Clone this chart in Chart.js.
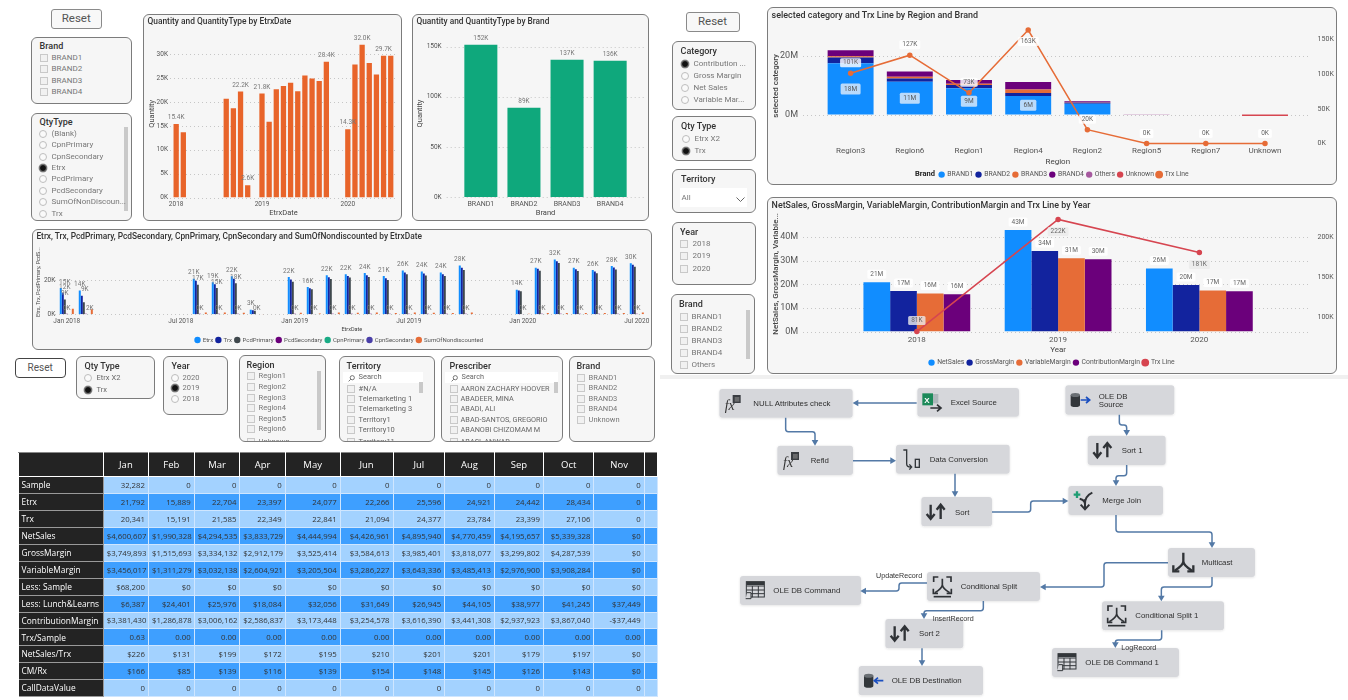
<!DOCTYPE html>
<html><head><meta charset="utf-8">
<script src="https://cdn.jsdelivr.net/npm/chart.js@4"></script>
<style>
html,body{margin:0;padding:0;background:#fff;width:1348px;height:700px;overflow:hidden;font-family:Roboto,sans-serif}
#root{position:absolute;left:0;top:0;width:1348px;height:700px;overflow:hidden;filter:blur(.3px)}
.card{position:absolute;box-sizing:border-box;background:#f6f6f6;border:1.4px solid #7c7c7c;border-radius:6px;overflow:hidden}
.t{position:absolute;white-space:nowrap;line-height:12px}
.btn{position:absolute;box-sizing:border-box;background:#f8f8f8;border:1.2px solid #8a8a8a;border-radius:3px;text-align:center;color:#555}
.chk{position:absolute;box-sizing:border-box;width:8px;height:8px;border:1px solid #c9c9c9;background:#f1f1f1}
.rad{position:absolute;box-sizing:border-box;width:8px;height:8px;border:1px solid #bdbdbd;border-radius:50%;background:#fafafa}
.rad.on{background:#111;border:1px solid #777;box-shadow:0 0 0 .5px #999}
.bar{position:absolute;background:#c9c9c9}
.white{position:absolute;background:#fff}
canvas{position:absolute}
table{position:absolute;border-collapse:collapse;table-layout:fixed;font-family:"Open Sans",sans-serif}
td,th{padding:0 3px;overflow:hidden;white-space:nowrap;box-sizing:border-box;font-weight:400}
th{background:#232323;color:#fff;font-size:9.5px;text-align:center;border:1px solid #fff;border-top:1px solid #888}
td.v{font-size:7.8px;text-align:right;color:#333;border:1px solid #cfe6ff}
td.h{background:#232323;color:#fff;font-size:8.4px;text-align:left;border-top:1px solid #999;border-bottom:1px solid #999;border-left:0;border-right:1px solid #999}
td.rl{background:#a3d2ff}td.rd{background:#3e9fff}
</style></head><body><div id="root"></div>
<script>
/* ---------- chart data ---------- */
const monthLabels=['Jan 2018','Feb 2018','Mar 2018','Apr 2018','May 2018','Jun 2018','Jul 2018','Aug 2018','Sep 2018','Oct 2018','Nov 2018','Dec 2018','Jan 2019','Feb 2019','Mar 2019','Apr 2019','May 2019','Jun 2019','Jul 2019','Aug 2019','Sep 2019','Oct 2019','Nov 2019','Dec 2019','Jan 2020','Feb 2020','Mar 2020','Apr 2020','May 2020','Jun 2020','Jul 2020'];
const quantityByMonth=[15400,13700,null,null,null,null,null,20700,18700,22200,2600,null,21792,15889,22704,23397,24077,22266,25596,24921,24442,28434,null,null,14300,27900,32000,28200,25800,29700,29700];
const quantityLabels=['15.4K',null,null,null,null,null,null,null,null,'22.2K','2.6K',null,'21.8K',null,null,null,null,null,null,null,null,'28.4K',null,null,'14.3K',null,'32.0K',null,null,'29.7K',null];
const quantityTicks=[0,5000,10000,15000,20000,25000,30000];

const brandNames=['BRAND1','BRAND2','BRAND3','BRAND4'];
const brandQuantity=[152000,89000,137000,136000];
const brandLabels=['152K','89K','137K','136K'];
const brandTicks=[0,50000,100000,150000];

const seriesEtrx=[15400,13900,null,null,null,null,null,20700,18700,22200,2600,null,21792,15889,22704,23397,24077,22266,25596,24921,24442,28434,null,null,14300,27200,32000,27200,25900,28200,29700];
const seriesTrx=[12300,10800,null,null,null,null,null,19500,17500,20700,2300,null,20341,15191,21585,22349,22841,21094,24377,23784,23399,27106,null,null,13900,26500,31000,26300,25000,27300,28900];
const seriesPcdPrimary=[8600,7000,null,null,null,null,null,17300,15400,18100,2000,null,19000,14600,20600,21400,21800,20000,23300,22700,22300,25900,null,null,13400,25400,29900,25200,24000,26200,27700];
const seriesPcdSecondary=[300,300,null,null,null,null,null,300,300,300,100,null,300,200,300,300,300,300,300,300,300,300,null,null,200,300,300,300,300,300,300];
const seriesCpnPrimary=[200,200,null,null,null,null,null,200,200,200,100,null,200,200,200,200,200,200,200,200,200,200,null,null,200,200,200,200,200,200,200];
const seriesCpnSecondary=[100,100,null,null,null,null,null,100,100,100,100,null,100,100,100,100,100,100,100,100,100,100,null,null,100,100,100,100,100,100,100];
const seriesNondiscounted=[3300,3000,null,null,null,null,null,1000,1000,900,200,null,900,500,1000,900,1000,800,1000,900,800,1100,null,null,300,800,800,700,700,800,1000];
const labelsEtrx=['15K','14K',null,null,null,null,null,'21K','19K','22K','3K',null,'22K','16K','22K','22K','24K','21K','26K','24K','24K','28K',null,null,'14K','27K','32K','27K','26K','28K','30K'];
const labelsTrx=['12K','9K',null,null,null,null,null,null,null,null,null,null,null,null,null,null,null,null,null,null,null,null,null,null,null,null,null,null,null,null,null];
const labelsPcd=['9K',null,null,null,null,null,null,'17K','15K','18K',null,null,null,null,null,null,null,null,null,null,null,null,null,null,null,null,null,null,null,null,null];
const labelsCpn=['0K','2K',null,null,null,null,null,'0K','0K','0K','0K',null,'0K','0K','0K','0K','0K','0K','0K','0K','0K','0K',null,null,'0K','0K','0K','0K','0K','0K','0K'];

const regionNames=['Region3','Region6','Region1','Region4','Region2','Region5','Region7','Unknown'];
const regionBrand1=[17500000,11200000,9000000,6300000,3700000,0,0,0];
const regionBrand2=[2000000,1100000,1100000,1100000,300000,0,0,0];
const regionBrand3=[400000,600000,400000,1200000,100000,0,0,0];
const regionBrand4=[2100000,1800000,1300000,2500000,400000,0,0,0];
const regionOthers=[0,0,0,0,0,100000,0,0];
const regionUnknown=[0,0,0,0,0,0,0,-500000];
const regionTrx=[101000,127000,73000,163000,20000,0,0,0];
const regionTrxLabels=['101K','127K','73K','163K','20K','0K','0K','0K'];
const regionB1Labels=['18M','11M','9M','6M',null,null,null,null];
const regionLeftTicks=[0,20000000];
const regionRightTicks=[0,50000,100000,150000];

const yearNames=['2018','2019','2020'];
const yearNetSales=[20900000,43100000,26700000];
const yearGrossMargin=[17200000,34200000,19800000];
const yearVariableMargin=[16100000,31100000,17400000];
const yearContributionMargin=[15800000,30700000,17100000];
const yearTrx=[81500,222500,181000];
const yearNetSalesLabels=['21M','43M','26M'];
const yearGrossLabels=['17M','34M','20M'];
const yearVariableLabels=['16M','31M','17M'];
const yearContributionLabels=['16M','30M','17M'];
const yearTrxLabels=['81K','222K','181K'];
const yearLeftTicks=[0,10000000,20000000,30000000,40000000];
const yearRightTicks=[100000,150000,200000];

/* ---------- table data ---------- */
const tableMonths=['Jan','Feb','Mar','Apr','May','Jun','Jul','Aug','Sep','Oct','Nov'];
const tableRowNames=['Sample','Etrx','Trx','NetSales','GrossMargin','VariableMargin','Less: Sample','Less: Lunch&Learns','ContributionMargin','Trx/Sample','NetSales/Trx','CM/Rx','CallDataValue'];
const rowSample=['32,282','0','0','0','0','0','0','0','0','0','0'];
const rowEtrx=['21,792','15,889','22,704','23,397','24,077','22,266','25,596','24,921','24,442','28,434','0'];
const rowTrx=['20,341','15,191','21,585','22,349','22,841','21,094','24,377','23,784','23,399','27,106','0'];
const rowNetSales=['$4,600,607','$1,990,328','$4,294,535','$3,833,729','$4,444,994','$4,426,961','$4,895,940','$4,770,459','$4,195,657','$5,339,328','$0'];
const rowGrossMargin=['$3,749,893','$1,515,693','$3,334,132','$2,912,179','$3,525,414','$3,584,613','$3,985,401','$3,818,077','$3,299,802','$4,287,539','$0'];
const rowVariableMargin=['$3,456,017','$1,311,279','$3,032,138','$2,604,921','$3,205,504','$3,286,227','$3,643,336','$3,485,413','$2,976,900','$3,908,284','$0'];
const rowLessSample=['$68,200','$0','$0','$0','$0','$0','$0','$0','$0','$0','$0'];
const rowLessLunch=['$6,387','$24,401','$25,976','$18,084','$32,056','$31,649','$26,945','$44,105','$38,977','$41,245','$37,449'];
const rowContribution=['$3,381,430','$1,286,878','$3,006,162','$2,586,837','$3,173,448','$3,254,578','$3,616,390','$3,441,308','$2,937,923','$3,867,040','-$37,449'];
const rowTrxSample=['0.63','0.00','0.00','0.00','0.00','0.00','0.00','0.00','0.00','0.00','0.00'];
const rowNetPerTrx=['$226','$131','$199','$172','$195','$210','$201','$201','$179','$197','$0'];
const rowCmPerRx=['$166','$85','$139','$116','$139','$154','$148','$145','$126','$143','$0'];
const rowCallData=['0','0','0','0','0','0','0','0','0','0','0'];
const tableRows=[rowSample,rowEtrx,rowTrx,rowNetSales,rowGrossMargin,rowVariableMargin,rowLessSample,rowLessLunch,rowContribution,rowTrxSample,rowNetPerTrx,rowCmPerRx,rowCallData];

/* ---------- slicer text ---------- */
const brandsPlain=['BRAND1','BRAND2','BRAND3','BRAND4'];
const qtyTypeItems=['(Blank)','CpnPrimary','CpnSecondary','Etrx','PcdPrimary','PcdSecondary','SumOfNonDiscoun...','Trx'];
const categoryItems=['Contribution ...','Gross Margin','Net Sales','Variable Mar...'];
const territoryItems=['#N/A','Telemarketing 1','Telemarketing 3','Territory1','Territory10','Territory11'];
const prescriberItems=['AARON ZACHARY HOOVER','ABADEER, MINA','ABADI, ALI','ABAD-SANTOS, GREGORIO','ABANOBI CHIZOMAM M','ABASI, ANWAR'];
const regionItems=['Region1','Region2','Region3','Region4','Region5','Region6','Unknown'];

/* ---------- colours ---------- */
const C={blue:'#118DFF',navy:'#12239E',orange:'#E66C37',purple:'#6B007B',grey:'#3F484D',green:'#0FA87C',teal:'#1AAB85',indigo:'#4A3FA8',pink:'#A65A9F',red:'#D64550',barOrange:'#E8642A',tick:'#555',lab:'#777',axisT:'#444'};
const FF='Roboto';

const root=document.getElementById('root');
function el(cls,css,html,parent){const d=document.createElement('div');d.className=cls;d.style.cssText=css;if(html!=null)d.innerHTML=html;(parent||root).appendChild(d);return d;}
function card(x,y,w,h,p){return el('card',`left:${x}px;top:${y}px;width:${w}px;height:${h}px`,null,p);}
function text(x,yc,s,size,color,weight,parent,ox=0,oy=0){return el('t',`left:${x-ox}px;top:${yc-6-oy}px;font-size:${size}px;color:${color};font-weight:${weight||400}`,s,parent);}
const meas=document.createElement('canvas').getContext('2d');
function cardTitle(x,yc,s,targetW){meas.font='500 9px Roboto';const w=meas.measureText(s).width;return text(x,yc,s,(9*targetW/w).toFixed(2),'#333',500);}
function reset(x,y,w,h,size,dark){el('btn',`left:${x}px;top:${y}px;width:${w}px;height:${h}px;font-size:${size}px;line-height:${h-3}px;${dark?'border-color:#444;border-radius:4px;background:#fff;':''}`,'Reset');}
const chevron='<svg width="9" height="6" viewBox="0 0 9 6"><path d="M.5 .5L4.5 4.5L8.5 .5" fill="none" stroke="#666" stroke-width="1"/></svg>';
const lens='<svg width="7" height="7" viewBox="0 0 7 7"><circle cx="4.3" cy="2.7" r="2.1" fill="none" stroke="#555" stroke-width=".8"/><path d="M2.8 4.2L.6 6.4" stroke="#555" stroke-width=".8"/></svg>';
function slicer(o){
  const c=card(o.x,o.y,o.w,o.h),ox=o.x+1.4,oy=o.y+1.4;
  text(o.tx,o.ty,o.title,o.tsize||9,'#333',500,c,ox,oy);
  if(o.search){el('white',`left:${o.search[0]-ox}px;top:${o.search[1]-oy}px;width:${o.search[2]}px;height:11px`,null,c);
    el('t',`left:${o.mx-ox+1}px;top:${o.search[1]+1-oy}px;line-height:8px`,lens,c);
    text(o.mx+12,o.search[1]+5.5,'Search',o.size,'#666',400,c,ox,oy);}
  if(o.sb)el('bar',`left:${o.sb[0]-ox}px;top:${o.sb[1]-oy}px;width:${o.sb[2]}px;height:${o.sb[3]}px`,null,c);
  o.items.forEach((s,i)=>{const y=o.ys[i];
    el(o.kind==='radio'?'rad'+(o.on===i?' on':''):'chk',`left:${o.mx-ox}px;top:${y-4-oy}px`,null,c);
    text(o.lx,y,s,o.size,o.col||'#777',400,c,ox,oy);});
  return c;
}

/* --- left-top slicers --- */
reset(51,9,50.5,19.5,11.5);
slicer({x:31,y:37,w:101,h:67,title:'Brand',tx:40,ty:46,items:brandsPlain,ys:[58,69.5,81,92.5],kind:'check',mx:40,lx:52,size:8});
slicer({x:31,y:113,w:101,h:108,title:'QtyType',tx:40,ty:122,items:qtyTypeItems,ys:[134,145.5,157,168.3,179.7,191,202.5,214],kind:'radio',on:3,mx:39.5,lx:52,size:8,sb:[124,127,4,84]});
/* --- right-top slicers --- */
reset(685.5,12,54,20,11.5);
slicer({x:672,y:41,w:84,h:69,title:'Category',tx:681,ty:51.5,items:categoryItems,ys:[64.5,76.5,88.5,100.5],kind:'radio',on:0,mx:681,lx:694,size:8});
slicer({x:672,y:116,w:84,h:45,title:'Qty Type',tx:681.5,ty:126.5,items:['Etrx X2','Trx'],ys:[139,151],kind:'radio',on:1,mx:682,lx:695,size:8});
const terr=slicer({x:672,y:169,w:84,h:44,title:'Territory',tx:681.5,ty:179.7,items:[],ys:[],kind:'check',mx:0,lx:0,size:8});
el('white','left:7px;top:18px;width:67px;height:19px',null,terr);
text(681.5,198,'All',8,'#777',400,null);
el('t','left:736px;top:192px;z-index:2',chevron);
slicer({x:672,y:221.7,w:84,h:63.3,title:'Year',tx:680.5,ty:232,items:['2018','2019','2020'],ys:[244.7,256.7,269],kind:'check',mx:680.5,lx:693,size:8});
slicer({x:670.5,y:294,w:84.5,h:80,title:'Brand',tx:679.5,ty:304,items:['BRAND1','BRAND2','BRAND3','BRAND4','Others'],ys:[317,329,341,353.5,365.5],kind:'check',mx:680,lx:692,size:8,sb:[746,310,4,49]});
/* --- bottom slicers --- */
reset(14.8,358,50.8,20,10,true);
slicer({x:76,y:356,w:79,h:43,title:'Qty Type',tx:85,ty:366,items:['Etrx X2','Trx'],ys:[378.5,390],kind:'radio',on:1,mx:84.5,lx:97,size:7.5,col:'#666'});
slicer({x:163,y:356,w:64.6,h:59,title:'Year',tx:172,ty:366,items:['2020','2019','2018'],ys:[378,388.5,399],kind:'radio',on:1,mx:171.5,lx:183,size:7.5,col:'#777'});
slicer({x:238.6,y:355,w:87,h:87,title:'Region',tx:247,ty:365,items:regionItems,ys:[376.7,387,398,408.5,419,429.5,442],kind:'check',mx:247,lx:259,size:7.5,sb:[317,371,4,59]});
slicer({x:339,y:356,w:96,h:86,title:'Territory',tx:347,ty:366,items:territoryItems,ys:[389.5,399.5,409.5,420,430.5,442.5],kind:'check',mx:347,lx:359,size:7.5,col:'#666',search:[343,372,80],sb:[419,382,4,11]});
slicer({x:441,y:356,w:121.6,h:86,title:'Prescriber',tx:450,ty:366,items:prescriberItems,ys:[389.5,399.5,409.5,420,430.5,442.5],kind:'check',mx:450,lx:461,size:7.3,col:'#666',search:[445,372,113],sb:[554,382,4,11]});
slicer({x:569,y:356,w:86,h:86,title:'Brand',tx:577,ty:366,items:['BRAND1','BRAND2','BRAND3','BRAND4','Unknown'],ys:[378,388.5,399,409.5,420],kind:'check',mx:577,lx:589,size:7.5});

/* --- chart cards --- */
card(143.3,14,259,206.7); cardTitle(147.5,21,'Quantity and QuantityType by EtrxDate',144);
card(412.3,14,237,206.7); cardTitle(416.5,21,'Quantity and QuantityType by Brand',133);
card(32,229,620,121); cardTitle(36.4,235.5,'Etrx, Trx, PcdPrimary, PcdSecondary, CpnPrimary, CpnSecondary and SumOfNondiscounted by EtrxDate',386);
card(767,7,570.4,178); cardTitle(771.6,15,'selected category and Trx Line by Region and Brand',207);
card(767,197,570.4,177); cardTitle(771.6,205,'NetSales, GrossMargin, VariableMargin, ContributionMargin and Trx Line by Year',319.5);
text(915,174.3,'Brand',7.5,'#222',700);
el('bar','left:660px;top:375px;width:688px;height:4px;background:#f0f0f0',null);

/* ---------- plugins ---------- */
const fmtK=v=>(v/1000)+'K', fmtM=v=>(v/1000000)+'M';
const gridPlugin={id:'dotGrid',beforeDatasetsDraw(ch,a,o){
  if(!o||o.x0==null)return;const s=ch.scales.y,ctx=ch.ctx;ctx.save();ctx.strokeStyle=o.color||'#c6c6c6';ctx.lineWidth=1;ctx.setLineDash([1,3]);
  const off=ch.canvas.offsetLeft;
  s.ticks.forEach(t=>{const y=Math.round(s.getPixelForValue(t.value))+.5;ctx.beginPath();ctx.moveTo(o.x0-off,y);ctx.lineTo(o.x1-off,y);ctx.stroke();});ctx.restore();}};
const labelPlugin={id:'valueLabels',afterDatasetsDraw(ch){
  const ctx=ch.ctx;
  ch.data.datasets.forEach((ds,i)=>{const L=ds.valueLabels;if(!L)return;const meta=ch.getDatasetMeta(i);
    ctx.save();ctx.font=`${L.size||6.5}px ${FF}`;ctx.textAlign='center';ctx.textBaseline='middle';
    L.texts.forEach((s,j)=>{if(s==null)return;const e=meta.data[j];if(!e)return;
      const dy=Array.isArray(L.dy)?L.dy[j]:(L.dy||0);
      const dx=(L.dxAt&&L.dxAt[j]!=null)?L.dxAt[j]:(L.dx||0);
      let x=e.x+dx,y=L.mode==='center'?(e.y+e.base)/2:e.y+dy;
      if(L.bg){const w=ctx.measureText(s).width+(L.padX??5),h=L.boxH||9;ctx.fillStyle=L.bg;ctx.beginPath();ctx.roundRect(x-w/2,y-h/2,w,h,1.5);ctx.fill();}
      ctx.fillStyle=L.color||C.lab;ctx.fillText(s,x,y);});
    ctx.restore();});}};
Chart.register(gridPlugin,labelPlugin);
Chart.defaults.font.family=FF;Chart.defaults.animation=false;Chart.defaults.responsive=false;

/* Build a chart whose plot area lands on a given page rectangle */
function pbiChart(g){
  const cv=document.createElement('canvas');
  const fs=g.legend?g.legend.size:0,pad=g.legend?g.legend.pad:0;
  const cx=g.canvas.x,cy=g.canvas.y,cr=g.canvas.r;
  const cb=g.legend?g.legend.y+10+fs/2:g.canvas.b;
  const legendTop=g.legend?cb-(fs+pad+10):cb;
  const axisBottom=g.legend?legendTop:g.plot.b+g.xH;
  cv.width=Math.round(cr-cx);cv.height=Math.round(cb-cy);
  cv.style.cssText=`left:${cx}px;top:${cy}px;width:${cv.width}px;height:${cv.height}px`;
  root.appendChild(cv);
  const H=axisBottom-g.plot.b;
  const tsize=g.xt.tsize||8,lh=tsize*1.2;
  const xs={stacked:!!g.stacked,afterFit(s){s.height=H;},grid:{display:false,drawTicks:true,tickLength:g.xt.pad},border:{display:false},
    ticks:{autoSkip:false,maxRotation:0,minRotation:0,padding:0,color:C.tick,font:{size:g.xt.size||8},callback:g.xt.cb||function(v){return this.getLabelForValue(v);}},
    title:{display:true,text:g.xt.title,color:C.axisT,font:{size:tsize},padding:{top:0,bottom:Math.max(0,axisBottom-g.xt.titleY-lh/2)}}};
  const ya=(a)=>({type:'linear',position:a.pos,min:a.min,max:a.max,stacked:!!a.stacked,
    afterFit(s){s.width=a.w;},afterBuildTicks(s){s.ticks=a.ticks.map(v=>({value:v}));},
    grid:{display:false,drawTicks:true,tickLength:a.pad},border:{display:false},
    ticks:{padding:0,color:C.tick,font:{size:a.size||8},autoSkip:false,callback:a.fmt},
    title:a.title?{display:true,text:a.title,color:a.tcol||C.axisT,font:{size:a.tsize||8,weight:a.tw||400},padding:{top:a.tx-cx-(a.tsize||8)*0.6,bottom:0}}:{display:false}});
  const scales={x:xs,y:ya({...g.y,pos:'left',w:g.plot.l-cx,stacked:g.stacked})};
  if(g.y1)scales.y1=ya({...g.y1,pos:'right',w:cr-g.plot.r});
  return new Chart(cv,{type:'bar',data:{labels:g.labels,datasets:g.datasets},options:{
    devicePixelRatio:1,
    layout:{padding:{left:0,right:g.y1?0:cr-g.plot.r,top:g.plot.t-cy,bottom:g.legend?0:cb-axisBottom}},
    scales,
    plugins:{tooltip:{enabled:false},dotGrid:{x0:g.grid[0],x1:g.grid[1]},
      legend:g.legend?{display:true,position:'bottom',labels:{usePointStyle:true,pointStyle:'circle',boxWidth:4.5,boxHeight:4.5,padding:pad,color:'#555',font:{size:fs},sort:(a,b)=>a.datasetIndex-b.datasetIndex}}:{display:false}}}});
}

/* Chart 1 */
pbiChart({canvas:{x:143.3,y:14,r:402.3,b:220.7},plot:{l:172.9,r:394.6,t:30,b:197.3},xH:21,grid:[170,397],labels:monthLabels,
  xt:{pad:3,size:6.5,tsize:7.5,title:'EtrxDate',titleY:213.3,cb(v,i){const s=monthLabels[i];return s.startsWith('Jan')?s.slice(4):'';}},
  y:{min:0,max:35100,ticks:quantityTicks,fmt:fmtK,pad:4.6,size:6.5,tsize:7.5,title:'Quantity',tx:152},
  datasets:[{label:'Quantity',data:quantityByMonth,backgroundColor:C.barOrange,categoryPercentage:.74,barPercentage:1,valueLabels:{texts:quantityLabels,dy:-6.5}}]});

/* Chart 2 */
pbiChart({canvas:{x:412.3,y:14,r:649.3,b:220.7},plot:{l:459.6,r:632,t:30,b:196.7},xH:21.5,grid:[446.7,645],labels:brandNames,
  xt:{pad:3,size:7,tsize:7.5,title:'Brand',titleY:213.3},
  y:{min:0,max:166700,ticks:brandTicks,fmt:fmtK,pad:17.6,size:6.5,tsize:7.5,title:'Quantity',tx:420},
  datasets:[{label:'Quantity',data:brandQuantity,backgroundColor:C.green,categoryPercentage:.766,barPercentage:1,valueLabels:{texts:brandLabels,dy:-6}}]});

/* Chart 3 */
const cp3=.74;
pbiChart({canvas:{x:32,y:229,r:652,b:350},plot:{l:57.3,r:646.3,t:250,b:314.3},grid:[55,643],labels:monthLabels,
  legend:{y:340,size:6,pad:3},
  xt:{pad:3,size:6.5,tsize:5.5,title:'EtrxDate',titleY:329.7,cb(v,i){return i%6===0?monthLabels[i]:'';}},
  y:{min:0,max:37500,ticks:[0,20000],fmt:fmtK,pad:2,size:6.5,title:'Etrx, Trx, PcdPrimary, PcdS...',tx:39,tsize:5.5},
  datasets:[
   {label:'Etrx',data:seriesEtrx,backgroundColor:C.blue,categoryPercentage:cp3,barPercentage:1,valueLabels:{texts:labelsEtrx,dy:-6,dxAt:{0:4}}},
   {label:'Trx',data:seriesTrx,backgroundColor:C.navy,categoryPercentage:cp3,barPercentage:1,valueLabels:{texts:labelsTrx,dy:-6,dxAt:{0:2,1:3}}},
   {label:'PcdPrimary',data:seriesPcdPrimary,backgroundColor:C.grey,categoryPercentage:cp3,barPercentage:1,valueLabels:{texts:labelsPcd,dy:-6}},
   {label:'PcdSecondary',data:seriesPcdSecondary,backgroundColor:C.purple,categoryPercentage:cp3,barPercentage:1},
   {label:'CpnPrimary',data:seriesCpnPrimary,backgroundColor:C.teal,categoryPercentage:cp3,barPercentage:1,valueLabels:{texts:labelsCpn,dy:-5.5,dx:-2,dxAt:{1:2}}},
   {label:'CpnSecondary',data:seriesCpnSecondary,backgroundColor:C.indigo,categoryPercentage:cp3,barPercentage:1},
   {label:'SumOfNondiscounted',data:seriesNondiscounted,backgroundColor:C.orange,categoryPercentage:cp3,barPercentage:1}]});

/* Chart 4 */
const whiteBg='rgba(255,255,255,.82)';
pbiChart({canvas:{x:767,y:7,r:1361,b:185},plot:{l:821,r:1294.6,t:28,b:143.3},stacked:true,grid:[803,1308],labels:regionNames,
  legend:{y:174.3,size:6.8,pad:3},
  xt:{pad:2.5,title:'Region',titleY:161.7},
  y:{min:-9950000,max:29600000,ticks:regionLeftTicks,fmt:fmtM,pad:23,size:9,title:'selected category',tx:776,tw:500},
  y1:{min:0,max:166000,ticks:regionRightTicks,fmt:fmtK,pad:23,size:7},
  datasets:[
   {label:'BRAND1',data:regionBrand1,backgroundColor:C.blue,order:1,categoryPercentage:.776,barPercentage:1,valueLabels:{texts:regionB1Labels,mode:'center',bg:'rgba(215,232,250,.85)',color:'#555',boxH:11,padX:7}},
   {label:'BRAND2',data:regionBrand2,backgroundColor:C.navy,order:1,categoryPercentage:.776,barPercentage:1},
   {label:'BRAND3',data:regionBrand3,backgroundColor:C.orange,order:1,categoryPercentage:.776,barPercentage:1},
   {label:'BRAND4',data:regionBrand4,backgroundColor:C.purple,order:1,categoryPercentage:.776,barPercentage:1},
   {label:'Others',data:regionOthers,backgroundColor:C.pink,order:1,categoryPercentage:.776,barPercentage:1},
   {label:'Unknown',data:regionUnknown,backgroundColor:C.red,order:1,categoryPercentage:.776,barPercentage:1},
   {label:'Trx Line',type:'line',yAxisID:'y1',data:regionTrx,borderColor:C.orange,backgroundColor:C.orange,borderWidth:1.5,pointRadius:2,pointBackgroundColor:C.orange,tension:0,order:0,clip:false,
     valueLabels:{texts:regionTrxLabels,dy:[-10.5,-10.5,-10.5,11.5,-10.5,-10,-10,-10],bg:whiteBg,boxH:9,padX:6,color:'#666'}}]});

/* Chart 5 */
pbiChart({canvas:{x:767,y:197,r:1337,b:374},plot:{l:846.2,r:1270,t:216,b:331.7},grid:[803,1308],labels:yearNames,
  legend:{y:362.7,size:6.8,pad:3},
  xt:{pad:3.5,title:'Year',titleY:350.3},
  y:{min:0,max:49000000,ticks:yearLeftTicks,fmt:fmtM,pad:48,size:9,title:'NetSales, GrossMargin, Variable...',tx:776,tw:500},
  y1:{min:81500,max:226800,ticks:yearRightTicks,fmt:fmtK,pad:47.5,size:7},
  datasets:[
   {label:'NetSales',data:yearNetSales,backgroundColor:C.blue,order:1,categoryPercentage:.756,barPercentage:1,valueLabels:{texts:yearNetSalesLabels,dy:-8,bg:whiteBg,padX:6,color:'#666'}},
   {label:'GrossMargin',data:yearGrossMargin,backgroundColor:C.navy,order:1,categoryPercentage:.756,barPercentage:1,valueLabels:{texts:yearGrossLabels,dy:-8,bg:whiteBg,padX:6,color:'#666'}},
   {label:'VariableMargin',data:yearVariableMargin,backgroundColor:C.orange,order:1,categoryPercentage:.756,barPercentage:1,valueLabels:{texts:yearVariableLabels,dy:-8,bg:whiteBg,padX:6,color:'#666'}},
   {label:'ContributionMargin',data:yearContributionMargin,backgroundColor:C.purple,order:1,categoryPercentage:.756,barPercentage:1,valueLabels:{texts:yearContributionLabels,dy:-8,bg:whiteBg,padX:6,color:'#666'}},
   {label:'Trx Line',type:'line',yAxisID:'y1',data:yearTrx,borderColor:C.red,backgroundColor:C.red,borderWidth:1.5,pointRadius:2,pointBackgroundColor:C.red,tension:0,order:0,clip:false,
     valueLabels:{texts:yearTrxLabels,dy:[-11,12,12],bg:'rgba(235,235,235,.8)',padX:6,color:'#666'}}]});

/* ---------- table ---------- */
(function(){
  const widths=[84.8,45.2,45.7,45.7,45.3,55,52.9,51.6,49.8,49,50.5,50.3,13.2];
  const heights=[24,17.3,17,17,16.7,17,17,17,17,16.6,16.7,17,16.7,17];
  const t=document.createElement('table');
  t.style.cssText=`left:18px;top:451.7px;width:${widths.reduce((a,b)=>a+b)}px`;
  let h='<colgroup>'+widths.map(w=>`<col style="width:${w}px">`).join('')+'</colgroup>';
  h+=`<tr style="height:${heights[0]}px"><th></th>`+tableMonths.map(m=>`<th>${m}</th>`).join('')+'<th></th></tr>';
  tableRowNames.forEach((n,i)=>{const c=i%2?'rd':'rl';
    h+=`<tr style="height:${heights[i+1]}px"><td class="h">${n}</td>`+tableRows[i].map(v=>`<td class="v ${c}">${v}</td>`).join('')+`<td class="v ${c}"></td></tr>`;});
  t.innerHTML=h;root.appendChild(t);
})();

/* ---------- data-flow diagram ---------- */
function iFx(cx,cy){return `<rect x="${cx-2}" y="${cy-25}" width="24" height="24" fill="#3a3d42"/><rect x="${cx+4}" y="${cy-19}" width="14" height="14" fill="#888" opacity=".6"/><text x="${cx-26}" y="${cy+20}" font-family="Liberation Serif" font-style="italic" font-size="42" fill="#333">fx</text>`;}
function arrowUD(cx,cy){return `<g fill="none" stroke="#2f3236" stroke-width="7"><path d="M${cx-16} ${cy-22}V${cy+20}M${cx-28} ${cy+6}L${cx-16} ${cy+21}L${cx-4} ${cy+6}"/><path d="M${cx+14} ${cy+21}V${cy-22}M${cx+2} ${cy-7}L${cx+14} ${cy-22}L${cx+26} ${cy-7}"/></g>`;}
function iDb(cx,cy,dir){const a=dir>0?`M${cx+2} ${cy}H${cx+28}M${cx+18} ${cy-9}L${cx+29} ${cy}L${cx+18} ${cy+9}`:`M${cx+30} ${cy}H${cx+4}M${cx+14} ${cy-9}L${cx+3} ${cy}L${cx+14} ${cy+9}`;
  return `<path d="M${cx-28} ${cy-15}V${cy+15}a14 6 0 0 0 28 0V${cy-15}z" fill="#33373b"/><ellipse cx="${cx-14}" cy="${cy-15}" rx="14" ry="6" fill="#6a6f74"/><path d="${a}" fill="none" stroke="#1b4fc0" stroke-width="5"/>`;}
function iExcel(cx,cy){return `<rect x="${cx-28}" y="${cy-28}" width="32" height="36" fill="#1c8a5a"/><text x="${cx-22}" y="${cy}" font-family="Liberation Sans" font-weight="700" font-size="24" fill="#fff">X</text><rect x="${cx+4}" y="${cy-26}" width="16" height="28" fill="#aeb7bb"/><path d="M${cx-4} ${cy+16}H${cx+26}M${cx+16} ${cy+6}L${cx+28} ${cy+16}L${cx+16} ${cy+26}" fill="none" stroke="#2f3236" stroke-width="5"/>`;}
function iConv(cx,cy){return `<g fill="none" stroke="#33373b" stroke-width="4"><path d="M${cx-26} ${cy-28}h10v42"/><path d="M${cx-16} ${cy+14}q0 9 12 9M${cx-8} ${cy+15}l7 8l-7 8"/><rect x="${cx+10}" y="${cy}" width="12" height="24"/></g>`;}
function iMerge(cx,cy){return `<path d="M${cx-34} ${cy-18}h20M${cx-24} ${cy-28}v20" stroke="#1f9d74" stroke-width="7"/><g fill="none" stroke="#2f3236" stroke-width="6"><path d="M${cx-16} ${cy-6}Q${cx} ${cy-2} ${cx} ${cy+10}Q${cx} ${cy-14} ${cx+22} ${cy-24}"/><path d="M${cx} ${cy-4}V${cy+24}M${cx-13} ${cy+12}L${cx} ${cy+26}L${cx+13} ${cy+12}"/></g>`;}
function iMulti(cx,cy){return `<g fill="none" stroke="#2f3236" stroke-width="7"><path d="M${cx} ${cy-30}V${cy-4}Q${cx} ${cy+8} ${cx-26} ${cy+24}M${cx} ${cy-4}Q${cx} ${cy+8} ${cx+26} ${cy+24}"/><path d="M${cx-30} ${cy+8}V${cy+26}H${cx-12}M${cx+30} ${cy+8}V${cy+26}H${cx+12}"/></g>`;}
function iSplit(cx,cy){return `<g fill="none" stroke="#2f3236" stroke-width="5"><path d="M${cx-26} ${cy-14}V${cy-29}H${cx-12}M${cx+26} ${cy-14}V${cy-29}H${cx+12}"/><path d="M${cx} ${cy-24}V${cy-6}Q${cx} ${cy+4} ${cx-22} ${cy+18}M${cx} ${cy-6}Q${cx} ${cy+4} ${cx+22} ${cy+18}"/><path d="M${cx-27} ${cy+6}V${cy+20}H${cx-13}M${cx+27} ${cy+6}V${cy+20}H${cx+13}"/><path d="M${cx-26} ${cy+30}H${cx+26}"/></g>`;}
function iCmd(cx,cy){return `<g fill="none" stroke="#33373b" stroke-width="3"><rect x="${cx-26}" y="${cy-27}" width="54" height="46"/><path d="M${cx-26} ${cy-14}h54M${cx-26} ${cy-2}h54M${cx-26} ${cy+9}h54M${cx-8} ${cy-14}v34M${cx+10} ${cy-14}v34"/></g><rect x="${cx-26}" y="${cy-27}" width="54" height="10" fill="#33373b"/><path d="M${cx-24} ${cy+6}h12v18h-16" fill="#d6d7db" stroke="#33373b" stroke-width="3"/>`;}
const flowNodes=[
 ['NULL Attributes check',58,27,400,86,160,70,iFx(100,70)],['Excel Source',652,24,305,86,752,67,iExcel(695,68)],
 ['OLE DB|Source',1096,16,327,88,1196,48,iDb(1140,60,1)],['Refld',232,197,227,88,332,241,iFx(275,241)],
 ['Data Conversion',588,194,341,87,689,238,iConv(636,238)],['Sort 1',1163,167,234,88,1265,211,arrowUD(1208,211)],
 ['Sort',664,351,212,88,765,396,arrowUD(708,396)],['Merge Join',1105,318,284,87,1207,362,iMerge(1155,362)],
 ['Multicast',1404,504,261,87,1505,548,iMulti(1450,548)],['Conditional Split',681,576,339,87,782,620,iSplit(727,620)],
 ['OLE DB Command',120,588,363,87,220,632,iCmd(165,632)],['Conditional Split 1',1206,664,366,87,1306,707,iSplit(1250,707)],
 ['Sort 2',556,717,234,88,657,761,arrowUD(600,761)],['OLE DB Command 1',1056,804,381,87,1156,848,iCmd(1100,848)],
 ['OLE DB Destination',476,858,373,88,575,902,iDb(520,902,-1)]];
const flowEdges=[
 [[650,69],[458,69]],[[257,113],[257,155],[345,155],[345,197]],[[459,242],[588,242]],[[765,281],[765,351]],
 [[1258,104],[1258,135],[1280,135],[1280,167]],[[1280,255],[1280,287],[1248,287],[1248,318]],
 [[876,396],[992,396],[992,363],[1105,363]],[[1248,405],[1248,456],[1536,456],[1536,504]],
 [[1404,548],[1212,548],[1212,621],[1020,621]],[[681,609],[597,609],[597,633],[481,633]],
 [[850,663],[850,692],[672,692],[672,717]],[[1536,591],[1536,621],[1384,621],[1384,664]],
 [[1385,751],[1385,780],[1246,780],[1246,804]],[[666,805],[666,858]]];
const flowTags=[['UpdateRecord',528,586],['InsertRecord',698,716],['LogRecord',1264,804]];
(function(){
  let s=`<svg xmlns="http://www.w3.org/2000/svg" width="560" height="320" viewBox="0 0 1680 960" style="position:absolute;left:700px;top:380px;font-family:'Liberation Sans',Arial,sans-serif">`;
  s+='<defs><filter id="sh" x="-5%" y="-10%" width="110%" height="125%"><feDropShadow dx="0" dy="2" stdDeviation="3" flood-color="#000" flood-opacity=".12"/></filter></defs>';
  flowNodes.forEach(n=>{s+=`<rect x="${n[1]}" y="${n[2]}" width="${n[3]}" height="${n[4]}" rx="9" fill="#d6d7db" filter="url(#sh)"/>`;});
  flowEdges.forEach(p=>{let d='M'+p[0][0]+' '+p[0][1];
    for(let i=1;i<p.length-1;i++){const [a,b,c]=[p[i-1],p[i],p[i+1]];const ux=Math.sign(b[0]-a[0]),uy=Math.sign(b[1]-a[1]),vx=Math.sign(c[0]-b[0]),vy=Math.sign(c[1]-b[1]);
      d+=`L${b[0]-ux*8} ${b[1]-uy*8}Q${b[0]} ${b[1]} ${b[0]+vx*8} ${b[1]+vy*8}`;}
    const e=p[p.length-1],f=p[p.length-2],ux=Math.sign(e[0]-f[0]),uy=Math.sign(e[1]-f[1]);
    d+=`L${e[0]-ux*10} ${e[1]-uy*10}`;
    s+=`<path d="${d}" fill="none" stroke="#5379a6" stroke-width="4.5"/>`;
    s+=`<path d="M${e[0]} ${e[1]}L${e[0]-ux*17-uy*10} ${e[1]-uy*17-ux*10}L${e[0]-ux*17+uy*10} ${e[1]-uy*17+ux*10}z" fill="#5379a6"/>`;});
  flowNodes.forEach(n=>{s+=n[7];const L=n[0].split('|');
    L.forEach((t,i)=>{s+=`<text x="${n[5]}" y="${n[6]+8+i*26}" font-size="23.5" fill="#2e2e2e">${t}</text>`;});});
  flowTags.forEach(t=>{s+=`<text x="${t[1]}" y="${t[2]+7}" font-size="21.5" fill="#333">${t[0]}</text>`;});
  s+='</svg>';
  const w=document.createElement('div');w.innerHTML=s;root.appendChild(w);
})();
</script></body></html>
